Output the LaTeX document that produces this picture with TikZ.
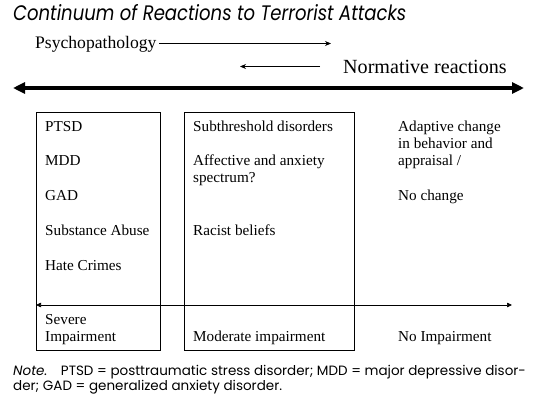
\documentclass[tikz,border=0pt]{standalone}
\usepackage{fontspec}
\setmainfont{Liberation Serif}
\newfontfamily\futura{Poppins}
\usetikzlibrary{arrows.meta}
\begin{document}
\begin{tikzpicture}[x=1pt,y=-1pt,
  lbl/.style={anchor=base west,inner sep=0pt,font=\fontsize{15.2}{17}\selectfont},
  box/.style={draw,line width=0.8pt},
  thin/.style={line width=0.75pt,-{Stealth[length=6pt,width=5pt]}}]
\useasboundingbox (0,0) rectangle (539,408);
\node[anchor=base west,inner sep=0pt,font=\futura\itshape\fontsize{21}{24}\selectfont,xscale=0.86] (title) at (13,20) {Continuum of Reactions to Terrorist Attacks};
\node[anchor=base west,inner sep=0pt,font=\fontsize{17.6}{20}\selectfont] (psy) at (35,48) {Psychopathology};
\coordinate (psystart) at (159,43.5);
\coordinate (psyend) at (331,43.5);
\draw[thin] (psystart) -- (psyend);
\node[anchor=base west,inner sep=0pt,font=\fontsize{20.1}{22}\selectfont] (norm) at (343,73) {Normative reactions};
\coordinate (nstart) at (320,66.5);
\coordinate (nend) at (240,66.5);
\draw[thin] (nstart) -- (nend);
\coordinate (bigL) at (13,88);
\coordinate (bigR) at (524,88);
\draw[line width=3.3pt,{Triangle[length=12pt,width=11pt]}-{Triangle[length=12pt,width=11pt]}] (bigL) -- (bigR);
\draw[box] (36,112) rectangle (160,350);
\draw[box] (184,112) rectangle (354,350);
\node[lbl] (a1) at (45,131) {PTSD};
\node[lbl] (a2) at (45,165) {MDD};
\node[lbl] (a3) at (45,200) {GAD};
\node[lbl] (a4) at (45,235) {Substance Abuse};
\node[lbl] (a5) at (45,270) {Hate Crimes};
\node[lbl] (a6) at (45,324) {Severe};
\node[lbl] (a7) at (45,341) {Impairment};
\node[lbl] (b1) at (193,131) {Subthreshold disorders};
\node[lbl] (b2) at (193,165) {Affective and anxiety};
\node[lbl] (b3) at (193,182) {spectrum?};
\node[lbl] (b4) at (193,235) {Racist beliefs};
\node[lbl] (b5) at (193,341) {Moderate impairment};
\node[lbl] (c1) at (398,131) {Adaptive change};
\node[lbl] (c2) at (398,148) {in behavior and};
\node[lbl] (c3) at (398,165) {appraisal /};
\node[lbl] (c4) at (398,200) {No change};
\node[lbl] (c5) at (398,341) {No Impairment};
\coordinate (sL) at (36,305);
\coordinate (sR) at (512,305);
\draw[line width=0.7pt,{Triangle[length=5pt,width=4.5pt]}-{Triangle[length=5pt,width=4.5pt]}] (sL) -- (sR);
\node[anchor=base west,inner sep=0pt,font=\futura\fontsize{13.5}{15}\selectfont] (n1) at (13,375) {{\itshape Note.}\hspace{1em}PTSD = posttraumatic stress disorder; MDD = major depressive disor-};
\node[anchor=base west,inner sep=0pt,font=\futura\fontsize{13.5}{15}\selectfont] (n2) at (13,390) {der; GAD = generalized anxiety disorder.};
\end{tikzpicture}
\end{document}
